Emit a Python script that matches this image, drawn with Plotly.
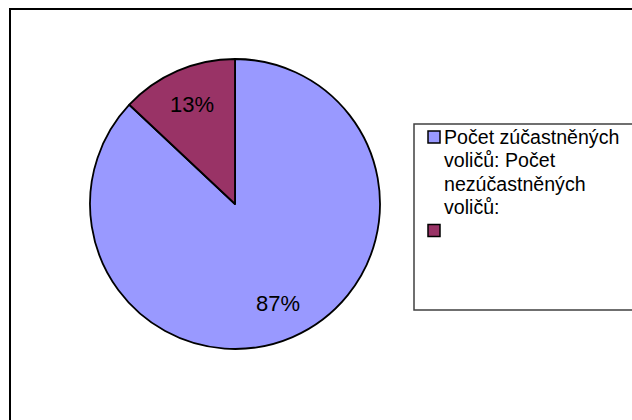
import math
import textwrap
import plotly.graph_objects as go

# ---- data ----
labels = ["Počet zúčastněných voličů: Počet nezúčastněných voličů:", ""]
values = [87, 13]
colors = ["#9999FF", "#993366"]

W, H = 632, 420
FONT = "Arial, Liberation Sans, sans-serif"


def px(x):
    return x / W


def py(y):
    return 1 - y / H


# pie geometry (pixels)
CX, CY, R = 235, 204, 145
LABEL_R = 0.75

fig = go.Figure()
fig.add_trace(go.Pie(
    labels=labels,
    values=values,
    sort=False,
    direction="clockwise",
    rotation=0,
    marker=dict(colors=colors, line=dict(color="black", width=1.8)),
    textinfo="none",
    domain=dict(x=[px(CX - R), px(CX + R)], y=[py(CY + R), py(CY - R)]),
    showlegend=False,
    hoverinfo="label+percent",
))

shapes = [
    # outer chart border
    dict(type="rect", xref="paper", yref="paper",
         x0=px(10), x1=1.05, y0=-0.05, y1=py(9),
         line=dict(color="black", width=2), fillcolor="rgba(0,0,0,0)"),
    # legend box
    dict(type="rect", xref="paper", yref="paper",
         x0=px(414), x1=1.05, y0=py(310), y1=py(124),
         line=dict(color="#404040", width=1.5), fillcolor="rgba(0,0,0,0)"),
]
annotations = []

# percentage labels placed along each slice's bisector
total = sum(values)
cum = 0
for v in values:
    mid = (cum + v / 2) / total * 2 * math.pi  # clockwise from 12 o'clock
    cum += v
    lx = CX + LABEL_R * R * math.sin(mid)
    ly = CY - LABEL_R * R * math.cos(mid)
    annotations.append(dict(
        text=f"{round(v / total * 100)}%", xref="paper", yref="paper",
        x=px(lx), y=py(ly), xanchor="center", yanchor="middle",
        showarrow=False, font=dict(family=FONT, size=22, color="black")))

# legend
row_h = 23.4
row = 0
for lab, col in zip(labels, colors):
    lines = textwrap.wrap(lab, width=18) or [""]
    base_y = 137 + row * row_h  # marker centre for this entry
    shapes.append(dict(type="rect", xref="paper", yref="paper",
                       x0=px(428), x1=px(440),
                       y0=py(base_y + 6), y1=py(base_y - 6),
                       fillcolor=col, line=dict(color="black", width=1.5)))
    for i, ln in enumerate(lines):
        if ln:
            annotations.append(dict(
                text=ln, xref="paper", yref="paper",
                x=px(442), y=py(base_y + i * row_h),
                xanchor="left", yanchor="middle", showarrow=False,
                font=dict(family=FONT, size=19.6, color="black")))
    row += len(lines)

fig.update_layout(
    width=W, height=H,
    margin=dict(l=0, r=0, t=0, b=0),
    paper_bgcolor="white",
    plot_bgcolor="white",
    shapes=shapes,
    annotations=annotations,
    showlegend=False,
)

fig.write_html("out.html", config={"displayModeBar": False},
               post_script="document.body.style.margin='0';")
